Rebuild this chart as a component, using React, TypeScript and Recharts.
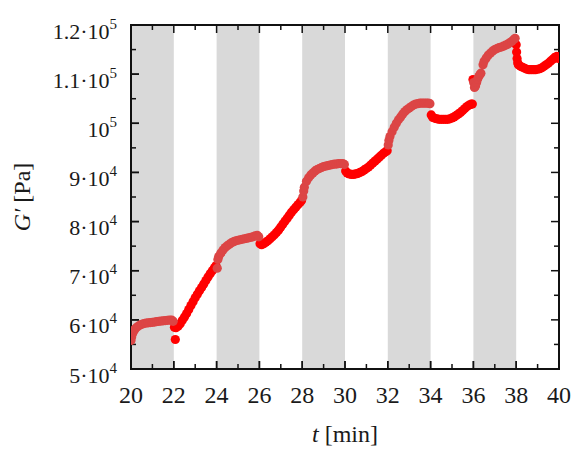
import React from 'react';
import { ScatterChart, Scatter, XAxis, YAxis, ReferenceArea, ReferenceLine } from 'recharts';

const times = [
  20.0, 20.03, 20.06, 20.1, 20.15, 20.2, 20.3, 20.4, 20.5, 20.6, 20.7, 20.8, 20.9, 21.0, 21.1, 21.2, 21.3, 21.4, 21.5, 21.6, 21.7, 21.8, 21.9, 21.97,
  22.03, 22.07, 22.1, 22.2, 22.3, 22.4, 22.5, 22.6, 22.7, 22.8, 22.9, 23.0, 23.1, 23.2, 23.3, 23.4, 23.5, 23.6, 23.7, 23.8, 23.9, 23.97,
  24.03, 24.06, 24.1, 24.2, 24.3, 24.4, 24.5, 24.6, 24.7, 24.8, 24.9, 25.0, 25.1, 25.2, 25.3, 25.4, 25.5, 25.6, 25.7, 25.8, 25.9, 25.97,
  26.03, 26.1, 26.2, 26.3, 26.4, 26.5, 26.6, 26.7, 26.8, 26.9, 27.0, 27.1, 27.2, 27.3, 27.4, 27.5, 27.6, 27.7, 27.8, 27.9, 27.97,
  28.03, 28.07, 28.1, 28.2, 28.3, 28.4, 28.5, 28.6, 28.7, 28.8, 28.9, 29.0, 29.1, 29.2, 29.3, 29.4, 29.5, 29.6, 29.7, 29.8, 29.9, 29.97,
  30.03, 30.1, 30.2, 30.3, 30.4, 30.5, 30.6, 30.7, 30.8, 30.9, 31.0, 31.1, 31.2, 31.3, 31.4, 31.5, 31.6, 31.7, 31.8, 31.9, 31.97,
  32.02, 32.05, 32.1, 32.2, 32.3, 32.4, 32.5, 32.6, 32.7, 32.8, 32.9, 33.0, 33.1, 33.2, 33.3, 33.4, 33.5, 33.6, 33.7, 33.8, 33.9, 33.97,
  34.03, 34.1, 34.2, 34.3, 34.4, 34.5, 34.6, 34.7, 34.8, 34.9, 35.0, 35.1, 35.2, 35.3, 35.4, 35.5, 35.6, 35.7, 35.8, 35.9, 35.95, 35.98,
  36.01, 36.05, 36.1, 36.15, 36.2, 36.25, 36.3, 36.35, 36.45, 36.5, 36.6, 36.7, 36.8, 36.9, 37.0, 37.1, 37.2, 37.3, 37.4, 37.5, 37.6, 37.7, 37.8, 37.9, 37.95,
  38.0, 38.02, 38.04, 38.07, 38.1, 38.2, 38.3, 38.4, 38.5, 38.6, 38.7, 38.8, 38.9, 39.0, 39.1, 39.2, 39.3, 39.4, 39.5, 39.6, 39.7, 39.8, 39.9, 39.97,
];

const moduli = [
  55800, 56500, 57100, 57500, 57900, 58200, 58600, 58900, 59100, 59250, 59350, 59400, 59450, 59500, 59550, 59650, 59700, 59750, 59800, 59850, 59900, 59950, 59950, 59700,
  58500, 56000, 58400, 58700, 59200, 59900, 60600, 61300, 62100, 62900, 63700, 64500, 65200, 65900, 66600, 67300, 68000, 68700, 69400, 70000, 70600, 71000,
  70500, 72300, 72900, 73600, 74200, 74700, 75100, 75400, 75700, 75900, 76100, 76200, 76300, 76400, 76500, 76600, 76700, 76800, 76900, 77100, 77200, 76900,
  75500, 75300, 75500, 75800, 76100, 76500, 76900, 77300, 77800, 78300, 78900, 79500, 80100, 80700, 81300, 81900, 82400, 82900, 83400, 83900, 84300,
  85000, 86200, 87000, 88200, 88900, 89500, 89900, 90300, 90600, 90800, 91000, 91200, 91300, 91400, 91500, 91600, 91700, 91700, 91800, 91800, 91800, 91600,
  90300, 89900, 89700, 89600, 89600, 89700, 89800, 90000, 90200, 90500, 90800, 91100, 91500, 91900, 92300, 92700, 93100, 93500, 93900, 94200, 94400,
  95600, 96500, 97300, 98300, 99200, 100000, 100700, 101300, 101900, 102400, 102800, 103100, 103400, 103700, 103900, 104000, 104100, 104100, 104100, 104100, 104100, 104000,
  101700, 101200, 101000, 100900, 100800, 100800, 100800, 100800, 100800, 100900, 101100, 101300, 101600, 101900, 102200, 102600, 103000, 103400, 103700, 103900, 103900, 108900,
  108300, 107300, 107600, 108300, 109000, 109500, 109900, 110200, 111900, 112600, 113300, 113900, 114300, 114700, 115000, 115200, 115400, 115500, 115700, 115900, 116100, 116400, 116700, 117100, 117300,
  116000, 114500, 113200, 112300, 111900, 111600, 111400, 111200, 111000, 110900, 110900, 110900, 110900, 111000, 111100, 111300, 111600, 111900, 112200, 112600, 113000, 113400, 113600, 113200,
];

const shadedIntervals = [
  [20, 22],
  [24, 26],
  [28, 30],
  [32, 34],
  [36, 38],
];

const xDomain = [20, 40];
const yDomain = [50000, 120000];
const xMajorTicks = [20, 22, 24, 26, 28, 30, 32, 34, 36, 38, 40];
const xMinorTicks = [21, 23, 25, 27, 29, 31, 33, 35, 37, 39];
const yMajorTicks = [50000, 60000, 70000, 80000, 90000, 100000, 110000, 120000];
const yMinorTicks = [55000, 65000, 75000, 85000, 95000, 105000, 115000];

const FONT = "'Liberation Serif', 'Times New Roman', Tinos, serif";
const INK = '#1a1a1a';

const points = times.map((t, i) => ({ t, g: moduli[i] }));
const inShade = (t: number) => shadedIntervals.some(([a, b]) => t >= a && t < b);
const shadedPoints = points.filter((p) => inShade(p.t));
const openPoints = points.filter((p) => !inShade(p.t));

const XTick = (props: any) => {
  const { x, y, payload } = props;
  return (
    <text x={x} y={y} textAnchor="middle" style={{ fontFamily: FONT, fontSize: 24 }} fill={INK}>
      {payload.value}
    </text>
  );
};

const YTick = (props: any) => {
  const { x, y, payload } = props;
  const v = payload.value as number;
  const exp = Math.floor(Math.log10(v) + 1e-9);
  const m = Math.round((v / Math.pow(10, exp)) * 10) / 10;
  const base = m === 1 ? '10' : `${m}·10`;
  return (
    <text x={x} y={y + 13.5} textAnchor="end" style={{ fontFamily: FONT, fontSize: 22 }} fill={INK}>
      <tspan>{base}</tspan>
      <tspan dy={-10} style={{ fontSize: 15 }}>
        {exp}
      </tspan>
    </text>
  );
};

const XTitle = (props: any) => {
  const vb = props.viewBox || {};
  return (
    <text x={vb.x + vb.width / 2} y={vb.y + 73} textAnchor="middle" style={{ fontFamily: FONT, fontSize: 24 }} fill={INK}>
      <tspan style={{ fontStyle: 'italic' }}>t</tspan>
      <tspan> [min]</tspan>
    </text>
  );
};

const YTitle = (props: any) => {
  const vb = props.viewBox || {};
  const cx = vb.x + vb.width - 109;
  const cy = vb.y + vb.height / 2;
  return (
    <text
      x={cx}
      y={cy}
      transform={`rotate(-90, ${cx}, ${cy})`}
      textAnchor="middle"
      dominantBaseline="central"
      style={{ fontFamily: FONT, fontSize: 24 }}
      fill={INK}
    >
      <tspan style={{ fontStyle: 'italic' }}>G′</tspan>
      <tspan> [Pa]</tspan>
    </text>
  );
};

// Box frame with inward ticks on all four sides, drawn on the plot rectangle that ReferenceArea gives.
const Frame = (p: any) => {
  const { x, y, width, height } = p;
  if (![x, y, width, height].every((n) => typeof n === 'number' && isFinite(n))) return <g />;
  const px = (v: number) => x + ((v - xDomain[0]) / (xDomain[1] - xDomain[0])) * width;
  const py = (v: number) => y + height - ((v - yDomain[0]) / (yDomain[1] - yDomain[0])) * height;
  const bottom = y + height;
  const right = x + width;
  const s = { stroke: '#111', strokeWidth: 1.5 };
  return (
    <g>
      {xMajorTicks.map((v) => (
        <g key={`xM${v}`}>
          <line x1={px(v)} x2={px(v)} y1={bottom} y2={bottom - 8} {...s} />
          <line x1={px(v)} x2={px(v)} y1={y} y2={y + 8} {...s} />
        </g>
      ))}
      {xMinorTicks.map((v) => (
        <g key={`xm${v}`}>
          <line x1={px(v)} x2={px(v)} y1={bottom} y2={bottom - 5} {...s} />
          <line x1={px(v)} x2={px(v)} y1={y} y2={y + 5} {...s} />
        </g>
      ))}
      {yMajorTicks.map((v) => (
        <g key={`yM${v}`}>
          <line x1={x} x2={x + 8} y1={py(v)} y2={py(v)} {...s} />
          <line x1={right} x2={right - 8} y1={py(v)} y2={py(v)} {...s} />
        </g>
      ))}
      {yMinorTicks.map((v) => (
        <g key={`ym${v}`}>
          <line x1={x} x2={x + 5} y1={py(v)} y2={py(v)} {...s} />
          <line x1={right} x2={right - 5} y1={py(v)} y2={py(v)} {...s} />
        </g>
      ))}
      <rect x={x} y={y} width={width} height={height} fill="none" stroke="#111" strokeWidth={2} />
    </g>
  );
};

const dot = (color: string) => (p: any) => <circle cx={p.cx} cy={p.cy} r={4.6} fill={color} />;

const axisLine = { stroke: '#111', strokeWidth: 2 };
const tickLine = { stroke: '#111', strokeWidth: 1.5 };

export default function App() {
  return (
    <div style={{ position: 'absolute', left: 0, top: 0, width: 572, height: 452, background: '#fff' }}>
      <ScatterChart width={572} height={452} margin={{ top: 25, right: 13, bottom: 82, left: 130 }}>
        <XAxis
          xAxisId="x"
          dataKey="t"
          type="number"
          domain={xDomain}
          allowDataOverflow
          ticks={xMajorTicks}
          interval={0}
          orientation="bottom"
          height={1}
          tickSize={-8}
          tickMargin={42}
          tick={(p: any) => <XTick {...p} />}
          axisLine={axisLine}
          tickLine={tickLine}
          label={(p: any) => <XTitle {...p} />}
        />
        <YAxis
          yAxisId="y"
          dataKey="g"
          type="number"
          domain={yDomain}
          allowDataOverflow
          ticks={yMajorTicks}
          interval={0}
          orientation="left"
          width={1}
          tickSize={-8}
          tickMargin={22}
          tick={(p: any) => <YTick {...p} />}
          axisLine={axisLine}
          tickLine={tickLine}
          label={(p: any) => <YTitle {...p} />}
        />
        {shadedIntervals.map(([a, b]) => (
          <ReferenceArea
            key={`band-${a}`}
            xAxisId="x"
            yAxisId="y"
            x1={a}
            x2={b}
            fill="#d9d9d9"
            fillOpacity={1}
            stroke="none"
            ifOverflow="visible"
          />
        ))}
        <Scatter
          xAxisId="x"
          yAxisId="y"
          data={openPoints}
          fill="#ff0000"
          shape={dot('#ff0000')}
          isAnimationActive={false}
        />
        <Scatter
          xAxisId="x"
          yAxisId="y"
          data={shadedPoints}
          fill="#dc4545"
          shape={dot('#dc4545')}
          isAnimationActive={false}
        />
        <ReferenceLine xAxisId="x" yAxisId="y" x={xDomain[1]} stroke="#111" strokeWidth={2} ifOverflow="visible" />
        <ReferenceLine xAxisId="x" yAxisId="y" y={yDomain[1]} stroke="#111" strokeWidth={2} ifOverflow="visible" />
        <ReferenceArea
          xAxisId="x"
          yAxisId="y"
          x1={xDomain[0]}
          x2={xDomain[1]}
          y1={yDomain[0]}
          y2={yDomain[1]}
          fill="none"
          stroke="none"
          ifOverflow="visible"
          shape={(p: any) => <Frame {...p} />}
        />
      </ScatterChart>
    </div>
  );
}
